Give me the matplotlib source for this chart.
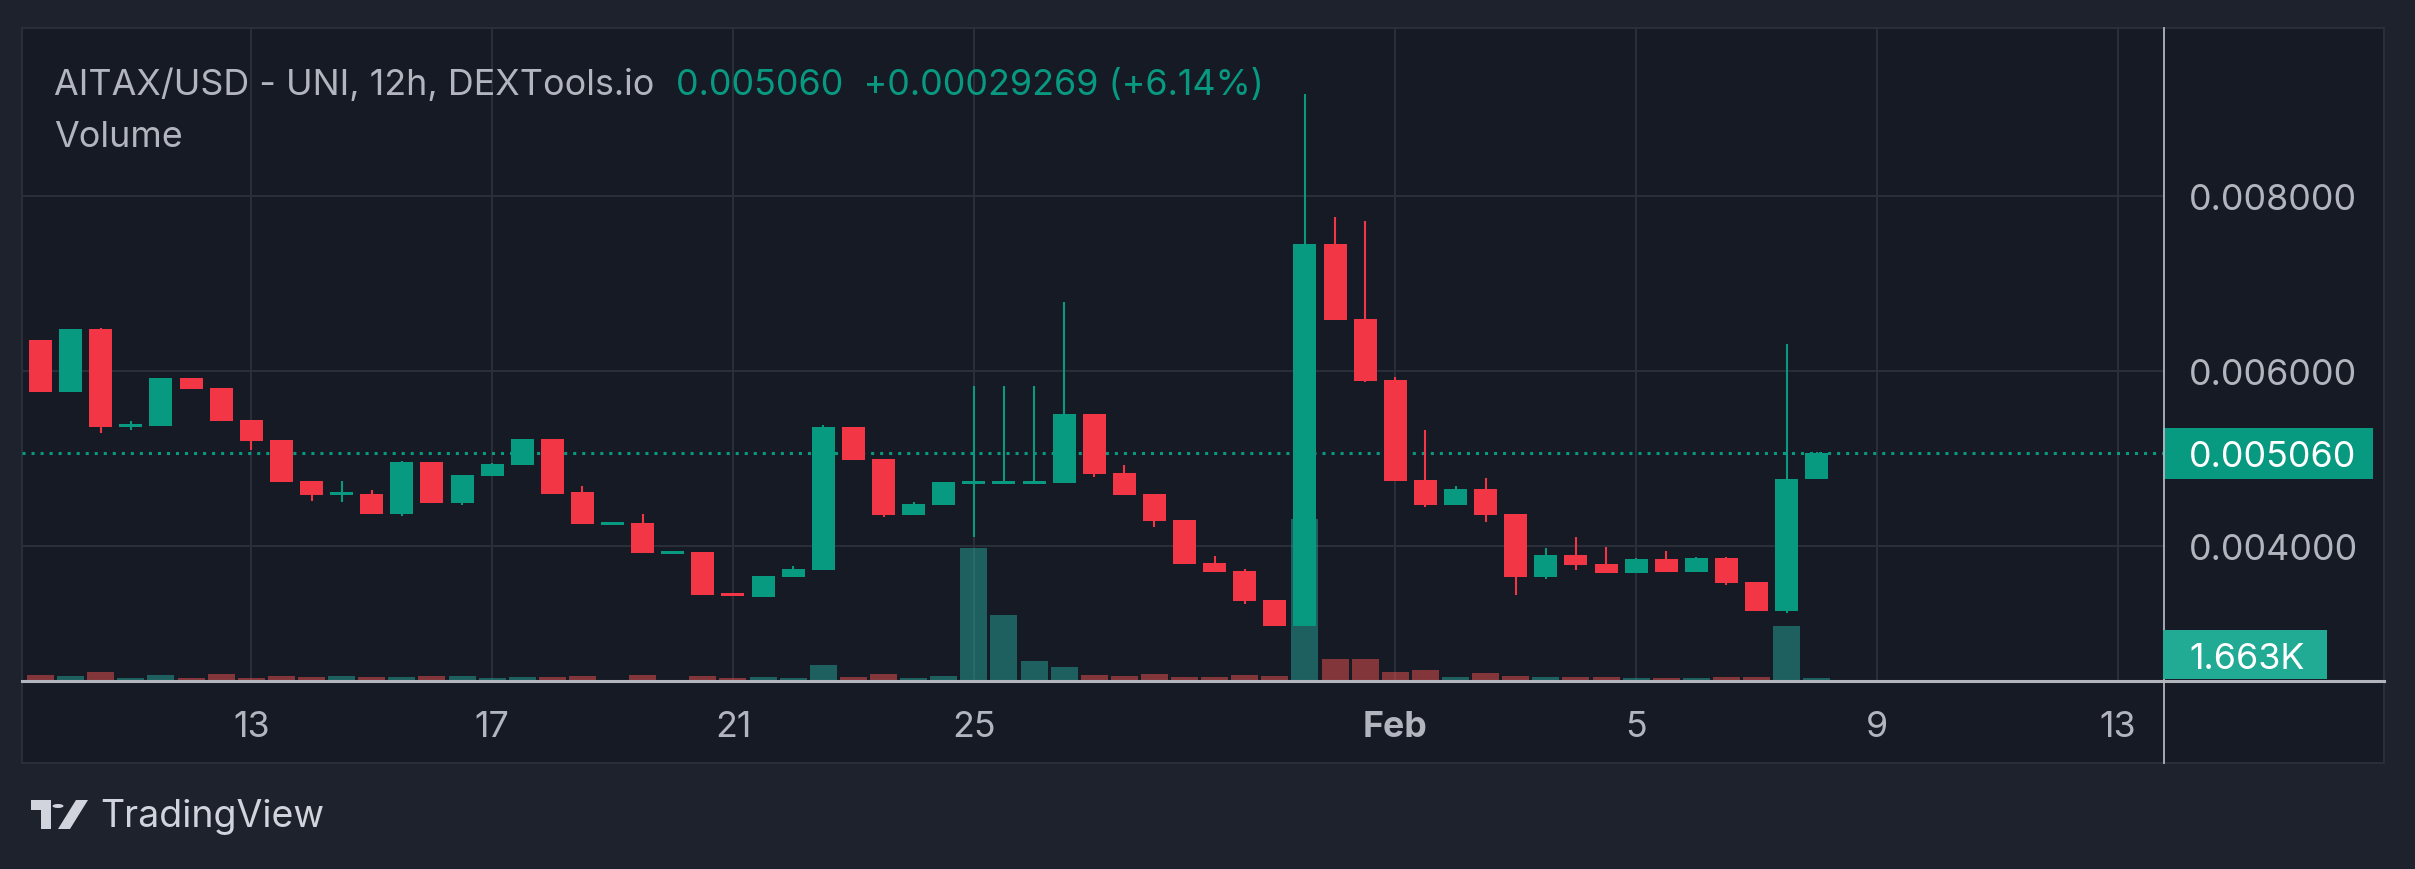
import matplotlib
matplotlib.use("Agg")
import matplotlib.dates as mdates
import matplotlib.pyplot as plt
import matplotlib.transforms as mtransforms
import numpy as np
import pandas as pd
from matplotlib.lines import Line2D
from matplotlib.patches import Circle, Polygon, Rectangle
from matplotlib.ticker import FormatStrFormatter

plt.rcParams["font.family"] = ["Inter", "DejaVu Sans"]
plt.rcParams["lines.scale_dashes"] = False

# %% data: AITAX/USD 12h candles, Jan 9 12:00 -> Feb 8 00:00
times = pd.date_range("2025-01-09 12:00", periods=60, freq="12h")

opens = [
    0.006354, 0.00576, 0.00648, 0.00536, 0.00537, 0.00592, 0.00581, 0.00544, 0.00521, 0.00474,
    0.00458, 0.00460, 0.00437, 0.00496, 0.00449, 0.00480, 0.00493, 0.00522, 0.00462, 0.00424,
    0.00426, 0.00391, 0.00393, 0.00346, 0.00342, 0.00365, 0.00373, 0.00536, 0.00499, 0.00435,
    0.00447, 0.00471, 0.00471, 0.00471, 0.00472, 0.00551, 0.00483, 0.00459, 0.00430, 0.00381,
    0.00371, 0.00338, 0.00309, 0.00745, 0.00659, 0.00590, 0.00475, 0.00447, 0.00465, 0.00437,
    0.00365, 0.00390, 0.00379, 0.00369, 0.00385, 0.00370, 0.00386, 0.00359, 0.00326, 0.00476731,
]
highs = [
    0.006354, 0.00648, 0.00649, 0.00543, 0.00592, 0.00592, 0.00581, 0.00544, 0.00521, 0.00474,
    0.00474, 0.00464, 0.00497, 0.00496, 0.00481, 0.00495, 0.00522, 0.00522, 0.00469, 0.00427,
    0.00437, 0.00394, 0.00393, 0.00346, 0.00366, 0.00377, 0.00538, 0.00536, 0.00499, 0.00450,
    0.00473, 0.00583, 0.00583, 0.00583, 0.00679, 0.00551, 0.00493, 0.00459, 0.00430, 0.00389,
    0.00374, 0.00338, 0.009166, 0.00776, 0.00771, 0.00593, 0.00533, 0.00469, 0.00478, 0.00437,
    0.00398, 0.00410, 0.00399, 0.00386, 0.00394, 0.00387, 0.00387, 0.00359, 0.00631, 0.005074,
]
lows = [
    0.00576, 0.00576, 0.00529, 0.00533, 0.00537, 0.00579, 0.00543, 0.00510, 0.00473, 0.00451,
    0.00450, 0.00437, 0.00434, 0.00449, 0.00447, 0.00480, 0.00493, 0.00460, 0.00425, 0.00424,
    0.00392, 0.00391, 0.00344, 0.00343, 0.00342, 0.00365, 0.00373, 0.00498, 0.00433, 0.00435,
    0.00447, 0.00410, 0.00471, 0.00471, 0.00472, 0.00479, 0.00458, 0.00422, 0.00380, 0.00370,
    0.00334, 0.00309, 0.00309, 0.00658, 0.00587, 0.00474, 0.00445, 0.00447, 0.00427, 0.00344,
    0.00362, 0.00373, 0.00369, 0.00369, 0.00370, 0.00370, 0.00355, 0.00326, 0.00323, 0.00476731,
]
closes = [
    0.00576, 0.00648, 0.00536, 0.00539, 0.00592, 0.00579, 0.00543, 0.00520, 0.00473, 0.00458,
    0.00462, 0.00437, 0.00496, 0.00449, 0.00481, 0.00494, 0.00522, 0.00460, 0.00425, 0.00427,
    0.00392, 0.00394, 0.00344, 0.00343, 0.00366, 0.00374, 0.00536, 0.00498, 0.00435, 0.00448,
    0.00473, 0.00474, 0.00474, 0.00474, 0.00551, 0.00482, 0.00458, 0.00429, 0.00380, 0.00370,
    0.00337, 0.00309, 0.00745, 0.00658, 0.00589, 0.00474, 0.00447, 0.00465, 0.00435, 0.00365,
    0.00390, 0.00378, 0.00369, 0.00385, 0.00370, 0.00386, 0.00358, 0.00326, 0.00476731, 0.005060,
]
# volume in thousands
volumes = [
    3.3, 2.8, 5.0, 1.7, 3.3, 1.7, 3.9, 1.7, 2.8, 2.2,
    2.8, 2.2, 2.2, 2.8, 2.8, 1.7, 2.2, 2.2, 2.8, 0.0,
    3.3, 0.0, 2.8, 1.7, 2.2, 1.7, 8.9, 2.2, 3.9, 1.7,
    2.8, 73.7, 36.6, 11.1, 7.8, 3.3, 2.8, 3.9, 2.2, 2.2,
    3.3, 2.8, 89.7, 12.2, 12.2, 5.0, 6.1, 2.2, 4.4, 2.8,
    2.2, 2.2, 2.2, 1.7, 1.7, 1.7, 2.2, 2.2, 30.5, 1.663,
]

price_ticks = [0.004, 0.006, 0.008]
date_ticks = ["2025-01-13", "2025-01-17", "2025-01-21", "2025-01-25",
              "2025-02-01", "2025-02-05", "2025-02-09", "2025-02-13"]
date_labels = ["13", "17", "21", "25", "Feb", "5", "9", "13"]

# %% colours
bg_out = "#1e222d"
bg_panel = "#161a25"
grid_c = "#2a2e39"
text_c = "#b2b5be"
up_c = "#089981"
down_c = "#f23645"
vol_up = (38 / 255, 166 / 255, 154 / 255, 0.5)
vol_down = (239 / 255, 83 / 255, 80 / 255, 0.5)
fs = 25.8

W, H = 2415, 870


def fx(px):
    return px / W


def fy(py):
    return 1 - py / H


fig = plt.figure(figsize=(W / 100, H / 100), dpi=100, facecolor=bg_out)

# chart panel
fig.patches.append(
    Rectangle((fx(22), fy(764)), fx(2384) - fx(22), fy(29) - fy(764), transform=fig.transFigure,
              facecolor=bg_panel, edgecolor=grid_c, lw=1.5, zorder=-1)
)

rect = [fx(22), fy(682), fx(2164) - fx(22), fy(29) - fy(682)]
ax_v = fig.add_axes(rect)
ax = fig.add_axes(rect, sharex=ax_v)
ax_v.set_zorder(1)
ax.set_zorder(2)
for a in (ax, ax_v):
    a.patch.set_visible(False)
    for s in a.spines.values():
        s.set_visible(False)

x = mdates.date2num(times)
o = np.array(opens)
h = np.array(highs)
l = np.array(lows)
c = np.array(closes)
v = np.array(volumes)
up = c >= o
colors = np.where(up, up_c, down_c)

day_px = 60.21
x_left = mdates.date2num(pd.Timestamp("2025-01-13")) - (251.3 - 22) / day_px
x_right = mdates.date2num(pd.Timestamp("2025-01-13")) + (2164 - 251.3) / day_px
ax.set_xlim(x_left, x_right)

p_per_px = 0.002 / 175
ax.set_ylim(0.006 - (682 - 372) * p_per_px, 0.006 + (372 - 29) * p_per_px)
ax_v.set_ylim(0, 653 * 0.554)

# grid (under the volume bars)
ax_v.grid(axis="x", color=grid_c, lw=1.5)
ax_v.set_yticks([])
ax_v.tick_params(axis="x", length=0, labelbottom=False)
gtrans = mtransforms.blended_transform_factory(ax_v.transAxes, ax.transData)
for p in price_ticks:
    ax_v.plot([0, 1], [p, p], transform=gtrans, color=grid_c, lw=1.5, zorder=0.5)

# volume
ax_v.bar(x, v, width=27 / day_px, color=[vol_up if u else vol_down for u in up], zorder=2)

# last price dotted line
ax.axhline(c[-1], color=up_c, lw=2.2, dashes=(2.2, 4.3), zorder=1)

# candles
wick_lw = 1.5
ax.vlines(x, l, h, colors=colors, lw=wick_lw, zorder=2)
body = np.maximum(np.abs(c - o), 3 * p_per_px)
ax.bar(x, body, bottom=np.minimum(o, c), width=23 / day_px, color=colors, zorder=3)

# axes ticks
ax.yaxis.tick_right()
ax.set_yticks(price_ticks)
ax.yaxis.set_major_formatter(FormatStrFormatter("%.6f"))
ax.tick_params(axis="y", length=0, pad=18, labelsize=fs, labelcolor=text_c)
ax.set_xticks(mdates.date2num(pd.to_datetime(date_ticks)), date_labels)
ax.tick_params(axis="x", length=0, pad=21, labelsize=fs, labelcolor=text_c)
for lbl in ax.get_xticklabels():
    if lbl.get_text() == "Feb":
        lbl.set_fontweight("bold")

# axis border lines
fig.lines.append(Line2D([fx(22), fx(2384)], [fy(682), fy(682)], transform=fig.transFigure,
                        color=text_c, lw=2.2, zorder=5))
fig.lines.append(Line2D([fx(2164), fx(2164)], [fy(29), fy(764)], transform=fig.transFigure,
                        color=text_c, lw=1.3, zorder=5))

# price label
ptrans = mtransforms.blended_transform_factory(fig.transFigure, ax.transData)
ax.add_patch(Rectangle((fx(2163), c[-1] - 25.5 * p_per_px), fx(2373) - fx(2163), 51 * p_per_px,
                       transform=ptrans, facecolor=up_c, edgecolor="none", clip_on=False, zorder=6))
ax.text(fx(2189), c[-1], f"{c[-1]:.6f}", transform=ptrans, color="white", fontsize=fs,
        va="center_baseline", ha="left", clip_on=False, zorder=7)

# volume label
fig.patches.append(Rectangle((fx(2163), fy(680)), fx(2327) - fx(2163), fy(631) - fy(680),
                             transform=fig.transFigure, facecolor="#22ab94", edgecolor="none", zorder=6))
fig.text(fx(2189), fy(656), f"{v[-1]:.3f}K", color="white", fontsize=fs, va="center_baseline", zorder=7)

# header
chg = c[-1] - c[-2]
pct = chg / c[-2] * 100
t1 = fig.text(fx(54), fy(95), "AITAX/USD - UNI, 12h, DEXTools.io", color=text_c, fontsize=fs, va="baseline")
fig.canvas.draw()
bb = t1.get_window_extent()
fig.text((bb.x1 + 22) / W, fy(95), f"{c[-1]:.6f}  {chg:+.8f} ({pct:+.2f}%)", color=up_c,
         fontsize=fs, va="baseline")
fig.text(fx(54), fy(147), "Volume", color=text_c, fontsize=fs, va="baseline")

# TradingView footer
logo_c = "#d1d4dc"
fig.patches.append(Polygon([[fx(31), fy(801)], [fx(51), fy(801)], [fx(51), fy(830)], [fx(41), fy(830)],
                            [fx(41), fy(811)], [fx(31), fy(811)]], closed=True, transform=fig.transFigure,
                           facecolor=logo_c, edgecolor="none"))
fig.patches.append(Circle((fx(58), fy(807)), 5.5 / W, transform=fig.transFigure, facecolor=logo_c))
fig.patches.append(Polygon([[fx(58), fy(830)], [fx(70), fy(830)], [fx(88), fy(801)], [fx(76), fy(801)]],
                           closed=True, transform=fig.transFigure, facecolor=logo_c, edgecolor="none"))
fig.text(fx(100), fy(827), "TradingView", color=logo_c, fontsize=27, va="baseline")

fig.savefig("out.png", dpi=100, facecolor=fig.get_facecolor())
